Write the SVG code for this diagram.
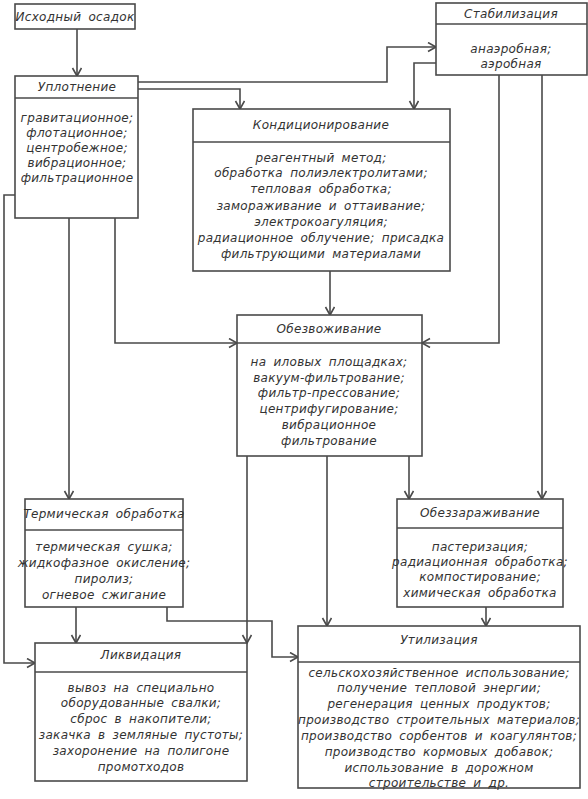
<svg xmlns="http://www.w3.org/2000/svg" width="588" height="799" viewBox="0 0 588 799">
<style>
.box{fill:#fff;stroke:#4a4a4a;stroke-width:1.6}
.div{stroke:#4a4a4a;stroke-width:1.4}
.t{font-family:"DejaVu Sans","Noto Sans",sans-serif;font-style:italic;font-size:12px;fill:#333;text-anchor:middle;word-spacing:3px;letter-spacing:0.3px}
.conn path{fill:none;stroke:#4a4a4a;stroke-width:1.6;marker-end:url(#arr)}
</style>
<defs>
<marker id="arr" markerWidth="12" markerHeight="12" refX="9" refY="5" orient="auto" markerUnits="userSpaceOnUse">
<path d="M1,0.5 L9,5 L1,9.5" fill="none" stroke="#4a4a4a" stroke-width="1.6"/>
</marker>
</defs>
<rect width="588" height="799" fill="#fff"/>
<g class="conn">
<path d="M77,29 V76"/>
<path d="M138,82 H387 V47 H436"/>
<path d="M138,89 H240 V109"/>
<path d="M436,63 H414 V109"/>
<path d="M499,75 V343 H422"/>
<path d="M542,75 V499"/>
<path d="M330,271 V315"/>
<path d="M115,218 V343 H237"/>
<path d="M69,218 V499"/>
<path d="M15,195 H4 V663 H35"/>
<path d="M247,456 V643"/>
<path d="M327,456 V626"/>
<path d="M409,456 V499"/>
<path d="M76,607 V643"/>
<path d="M167,607 V621 H272 V657 H298"/>
<path d="M486,607 V626"/>
</g>
<g id="ishodny">
<rect class="box" x="15" y="4" width="120" height="25"/>
<text class="t" x="75" y="21">Исходный осадок</text>
</g>
<g id="uplotnenie">
<rect class="box" x="15" y="76" width="123" height="142"/>
<line class="div" x1="15" y1="98" x2="138" y2="98"/>
<text class="t" x="77" y="91">Уплотнение</text>
<text class="t" x="77" y="122">гравитационное;</text>
<text class="t" x="77" y="137">флотационное;</text>
<text class="t" x="77" y="152">центробежное;</text>
<text class="t" x="77" y="167">вибрационное;</text>
<text class="t" x="77" y="182">фильтрационное</text>
</g>
<g id="stabilizacia">
<rect class="box" x="436" y="3" width="151" height="72"/>
<line class="div" x1="436" y1="24" x2="587" y2="24"/>
<text class="t" x="511" y="18">Стабилизация</text>
<text class="t" x="511" y="53">анаэробная;</text>
<text class="t" x="511" y="68">аэробная</text>
</g>
<g id="kondicionirovanie">
<rect class="box" x="193" y="109" width="257" height="162"/>
<line class="div" x1="193" y1="142" x2="450" y2="142"/>
<text class="t" x="321" y="129">Кондиционирование</text>
<text class="t" x="321" y="162">реагентный метод;</text>
<text class="t" x="321" y="177">обработка полиэлектролитами;</text>
<text class="t" x="321" y="193">тепловая обработка;</text>
<text class="t" x="321" y="210">замораживание и оттаивание;</text>
<text class="t" x="321" y="226">электрокоагуляция;</text>
<text class="t" x="321" y="242">радиационное облучение; присадка</text>
<text class="t" x="321" y="258">фильтрующими материалами</text>
</g>
<g id="obezvozhivanie">
<rect class="box" x="237" y="315" width="185" height="141"/>
<line class="div" x1="237" y1="343" x2="422" y2="343"/>
<text class="t" x="329" y="333">Обезвоживание</text>
<text class="t" x="329" y="366">на иловых площадках;</text>
<text class="t" x="329" y="382">вакуум-фильтрование;</text>
<text class="t" x="329" y="397">фильтр-прессование;</text>
<text class="t" x="329" y="413">центрифугирование;</text>
<text class="t" x="329" y="429">вибрационное</text>
<text class="t" x="329" y="445">фильтрование</text>
</g>
<g id="termicheskaya">
<rect class="box" x="25" y="499" width="158" height="108"/>
<line class="div" x1="25" y1="530" x2="183" y2="530"/>
<text class="t" x="104" y="518">Термическая обработка</text>
<text class="t" x="104" y="551">термическая сушка;</text>
<text class="t" x="104" y="567">жидкофазное окисление;</text>
<text class="t" x="104" y="583">пиролиз;</text>
<text class="t" x="104" y="599">огневое сжигание</text>
</g>
<g id="obezzarazhivanie">
<rect class="box" x="397" y="499" width="166" height="108"/>
<line class="div" x1="397" y1="528" x2="563" y2="528"/>
<text class="t" x="480" y="517">Обеззараживание</text>
<text class="t" x="480" y="551">пастеризация;</text>
<text class="t" x="480" y="566">радиационная обработка;</text>
<text class="t" x="480" y="581">компостирование;</text>
<text class="t" x="480" y="597">химическая обработка</text>
</g>
<g id="likvidacia">
<rect class="box" x="35" y="643" width="212" height="138"/>
<line class="div" x1="35" y1="672" x2="247" y2="672"/>
<text class="t" x="141" y="659">Ликвидация</text>
<text class="t" x="141" y="692">вывоз на специально</text>
<text class="t" x="141" y="707">оборудованные свалки;</text>
<text class="t" x="141" y="723">сброс в накопители;</text>
<text class="t" x="141" y="739">закачка в земляные пустоты;</text>
<text class="t" x="141" y="755">захоронение на полигоне</text>
<text class="t" x="141" y="771">промотходов</text>
</g>
<g id="utilizacia">
<rect class="box" x="298" y="626" width="282" height="162"/>
<line class="div" x1="298" y1="662" x2="580" y2="662"/>
<text class="t" x="439" y="644">Утилизация</text>
<text class="t" x="439" y="677">сельскохозяйственное использование;</text>
<text class="t" x="439" y="692">получение тепловой энергии;</text>
<text class="t" x="439" y="708">регенерация ценных продуктов;</text>
<text class="t" x="439" y="724">производство строительных материалов;</text>
<text class="t" x="439" y="740">производство сорбентов и коагулянтов;</text>
<text class="t" x="439" y="756">производство кормовых добавок;</text>
<text class="t" x="439" y="772">использование в дорожном</text>
<text class="t" x="439" y="787">строительстве и др.</text>
</g>
</svg>
